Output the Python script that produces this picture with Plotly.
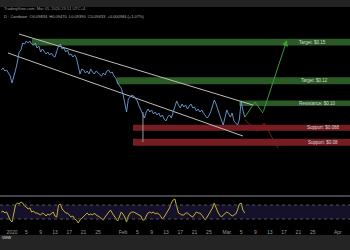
import pandas as pd
import plotly.graph_objects as go

# ---- data ----
prices = [0.1305, 0.1319, 0.1298, 0.1305, 0.1284, 0.1263, 0.1214, 0.1256, 0.1305, 0.1361,
          0.1431, 0.1445, 0.1494, 0.1487, 0.1508, 0.1494, 0.1508, 0.1487, 0.1480, 0.1494,
          0.1459, 0.1473, 0.1431, 0.1452, 0.1438, 0.1417, 0.1431, 0.1410, 0.1424, 0.1403,
          0.1396, 0.1431, 0.1473, 0.1487, 0.1452, 0.1459, 0.1431, 0.1445, 0.1410, 0.1417,
          0.1396, 0.1410, 0.1389, 0.1333, 0.1277, 0.1312, 0.1305, 0.1284, 0.1298, 0.1277,
          0.1312, 0.1291, 0.1277, 0.1298, 0.1284, 0.1270, 0.1263, 0.1284, 0.1270, 0.1298,
          0.1305, 0.1284, 0.1291, 0.1263, 0.1249, 0.1214, 0.1200, 0.1179, 0.1137, 0.1074,
          0.1011, 0.1102, 0.1116, 0.1130, 0.1123, 0.1102, 0.1088, 0.1053, 0.1025, 0.1004,
          0.0969, 0.1011, 0.1032, 0.1011, 0.1025, 0.0997, 0.1011, 0.0990, 0.1004, 0.0976,
          0.0990, 0.0962, 0.0948, 0.0976, 0.0990, 0.0969, 0.1004, 0.1039, 0.1088, 0.1060,
          0.1039, 0.1067, 0.1046, 0.1060, 0.1032, 0.1053, 0.1067, 0.1039, 0.1046, 0.1018,
          0.1032, 0.1011, 0.1025, 0.1004, 0.0990, 0.0969, 0.0983, 0.1011, 0.1053, 0.1095,
          0.1067, 0.1025, 0.0990, 0.0955, 0.0920, 0.0976, 0.1025, 0.0997, 0.0976, 0.1004,
          0.0948, 0.0934, 0.0920, 0.0955, 0.1081, 0.1025, 0.0976]

rsi = [50, 52.9, 47.1, 50, 38.6, 27.1, 21.4, 50, 70, 75.7,
       72.9, 78.6, 75.7, 67.1, 64.3, 58.6, 61.4, 50, 52.9, 47.1,
       47.1, 44.3, 41.4, 47.1, 44.3, 38.6, 44.3, 41.4, 47.1, 50,
       38.6, 35.7, 70, 72.9, 58.6, 52.9, 47.1, 47.1, 41.4, 35.7,
       38.6, 30, 27.1, 18.6, 27.1, 32.9, 38.6, 44.3, 47.1, 41.4,
       44.3, 41.4, 47.1, 41.4, 38.6, 35.7, 30, 27.1, 35.7, 41.4,
       50, 55.7, 47.1, 38.6, 32.9, 24.3, 35.7, 50, 44.3, 35.7,
       21.4, 38.6, 47.1, 50, 50, 47.1, 44.3, 41.4, 38.6, 27.1,
       27.1, 38.6, 47.1, 50, 47.1, 50, 44.3, 47.1, 44.3, 38.6,
       30, 35.7, 44.3, 50, 61.4, 75.7, 84.3, 87.1, 67.1, 47.1,
       44.3, 41.4, 41.4, 47.1, 47.1, 41.4, 38.6, 35.7, 44.3, 50,
       47.1, 47.1, 41.4, 32.9, 27.1, 35.7, 44.3, 50, 61.4, 75.7,
       61.4, 50, 41.4, 35.7, 41.4, 47.1, 50, 47.1, 41.4, 38.6,
       41.4, 44.3, 55.7, 72.9, 75.7, 55.7, 47.1]

dates = pd.date_range("2019-12-29", periods=len(prices), freq="12h")

wick_dates = ["2020-02-06 14:00", "2020-02-06 14:00"]
wick_prices = [0.1011, 0.0801]

upper_dates = ["2020-01-02 23:00", "2020-03-08 07:00"]
upper_prices = [0.1557, 0.1060]
lower_dates = ["2019-12-30 21:00", "2020-03-05 12:00"]
lower_prices = [0.1424, 0.0843]

bull_dates = ["2020-03-06 02:00", "2020-03-08 21:00", "2020-03-11 02:00", "2020-03-17 19:00"]
bull_prices = [0.0976, 0.1081, 0.1004, 0.1515]
bear_dates = ["2020-03-06 02:00", "2020-03-09 10:00", "2020-03-11 10:00", "2020-03-15 07:00"]
bear_prices = [0.0955, 0.0878, 0.0934, 0.0759]

zone_labels = ["Target: $0.15", "Target: $0.12", "Resistance: $0.10", "Support: $0.088", "Support: $0.08"]
zone_start = ["2020-01-06 14:00", "2020-01-30 07:00", "2020-03-04 12:00", "2020-02-03 19:00", "2020-02-03 19:00"]
zone_low = [0.1476, 0.1205, 0.1053, 0.0880, 0.0775]
zone_high = [0.1524, 0.1254, 0.1091, 0.0921, 0.0824]
zone_colors = ["#2b5a26", "#2b5a26", "#2b5a26", "#761d23", "#761d23"]
label_x = ["2020-03-20 20:00", "2020-03-21 08:00", "2020-03-21 00:00", "2020-03-23 00:00", "2020-03-23 08:00"]

tick_dates = ["2020-01-01", "2020-01-05", "2020-01-09", "2020-01-13", "2020-01-17", "2020-01-21", "2020-01-25",
              "2020-02-01", "2020-02-05", "2020-02-09", "2020-02-13", "2020-02-17", "2020-02-21", "2020-02-25",
              "2020-03-01", "2020-03-05", "2020-03-09", "2020-03-13", "2020-03-17", "2020-03-21", "2020-03-25",
              "2020-04-01"]
tick_text = ["2020", "5", "9", "13", "17", "21", "25", "Feb", "5", "9", "13", "17", "21", "25",
             "Mar", "5", "9", "13", "17", "21", "25", "Apr"]

x_range = ["2019-12-28 15:36", "2020-04-04 10:00"]

FONT = "Liberation Sans"
fig = go.Figure()

# zones
for lab, xs, lo, hi, col, lx in zip(zone_labels, zone_start, zone_low, zone_high, zone_colors, label_x):
    fig.add_shape(type="rect", xref="x", yref="y", x0=xs, x1=x_range[1], y0=lo, y1=hi,
                  fillcolor=col, line_width=0, layer="below")
    fig.add_annotation(x=lx, y=(lo + hi) / 2, xref="x", yref="y", text=lab, showarrow=False,
                       xanchor="left", borderpad=0,
                       font=dict(size=4.5, color="#d8d8d8", family=FONT))

# channel lines
fig.add_trace(go.Scatter(x=upper_dates, y=upper_prices, mode="lines",
                         line=dict(color="#bdbdbd", width=1), xaxis="x", yaxis="y"))
fig.add_trace(go.Scatter(x=lower_dates, y=lower_prices, mode="lines",
                         line=dict(color="#bdbdbd", width=1), xaxis="x", yaxis="y"))
# wick
fig.add_trace(go.Scatter(x=wick_dates, y=wick_prices, mode="lines",
                         line=dict(color="#9a9a9a", width=1), xaxis="x", yaxis="y"))
# price
fig.add_trace(go.Scatter(x=dates, y=prices, mode="lines",
                         line=dict(color="#6a9fd8", width=0.9), xaxis="x", yaxis="y"))
# projections
fig.add_trace(go.Scatter(x=bear_dates, y=bear_prices, mode="lines",
                         line=dict(color="#7d1a1a", width=1), xaxis="x", yaxis="y"))
fig.add_trace(go.Scatter(x=bull_dates[:-1], y=bull_prices[:-1], mode="lines",
                         line=dict(color="#3f9a3a", width=1), xaxis="x", yaxis="y"))
fig.add_annotation(x=bull_dates[-1], y=bull_prices[-1], ax=bull_dates[-2], ay=bull_prices[-2],
                   xref="x", yref="y", axref="x", ayref="y", text="", showarrow=True,
                   arrowhead=2, arrowsize=1.2, arrowwidth=1, arrowcolor="#3f9a3a")

# RSI
fig.add_shape(type="rect", xref="paper", yref="y2", x0=0, x1=1, y0=30, y1=70,
              fillcolor="#16112a", line_width=0, layer="below")
for lvl in (30, 70):
    fig.add_shape(type="line", xref="paper", yref="y2", x0=0, x1=1, y0=lvl, y1=lvl,
                  line=dict(color="#555555", width=1, dash="dot"))
fig.add_trace(go.Scatter(x=dates, y=rsi, mode="lines",
                         line=dict(color="#c7b032", width=1), xaxis="x2", yaxis="y2"))

# chrome
fig.add_shape(type="rect", xref="paper", yref="paper", x0=0, x1=1, y0=1 - 7 / 250, y1=1,
              fillcolor="#242424", line_width=0)
fig.add_shape(type="rect", xref="paper", yref="paper", x0=0, x1=1, y0=0, y1=15 / 250,
              fillcolor="#242424", line_width=0)
fig.add_shape(type="line", xref="paper", yref="paper", x0=0, x1=1, y0=1 - 196 / 250, y1=1 - 196 / 250,
              line=dict(color="#8a8a8a", width=1))
fig.add_annotation(x=0.006, y=1 - 3.5 / 250, xref="paper", yref="paper", xanchor="left",
                   text="TradingView.com, Mar 05, 2020 23:51 UTC+4", showarrow=False,
                   font=dict(size=4, color="#9a9a9a", family=FONT))
fig.add_annotation(x=0.006, y=1 - 11.5 / 250, xref="paper", yref="paper", xanchor="left",
                   text="D · Coinbase  O0.09834  H0.09470  L0.09390  C0.09433  +0.000984 (+1.07%)",
                   showarrow=False, font=dict(size=4, color="#b0b0b0", family=FONT))
fig.add_annotation(x=0.0, y=1 - 242 / 250, xref="paper", yref="paper", xanchor="left",
                   text="view", showarrow=False, font=dict(size=4.5, color="#cfcfcf", family=FONT))

fig.update_layout(
    width=350, height=250, margin=dict(l=0, r=0, t=0, b=0),
    paper_bgcolor="#000000", plot_bgcolor="#000000", showlegend=False,
    xaxis=dict(range=x_range, domain=[0, 1], anchor="y", showticklabels=False,
               showgrid=False, zeroline=False, showline=False),
    yaxis=dict(range=[0.0423, 0.1739], domain=[1 - 196 / 250, 1 - 8 / 250], showticklabels=False,
               showgrid=False, zeroline=False, showline=False),
    xaxis2=dict(range=x_range, domain=[0, 1], anchor="y2", matches="x", tickmode="array",
                tickvals=tick_dates, ticktext=tick_text, showgrid=False, zeroline=False,
                showline=False, ticks="", tickfont=dict(size=5, color="#9a9a9a", family=FONT)),
    yaxis2=dict(range=[4.3, 92.9], domain=[1 - 228 / 250, 1 - 197 / 250], showticklabels=False,
                showgrid=False, zeroline=False, showline=False),
)

fig.write_html("out.html", config={"displayModeBar": False})
